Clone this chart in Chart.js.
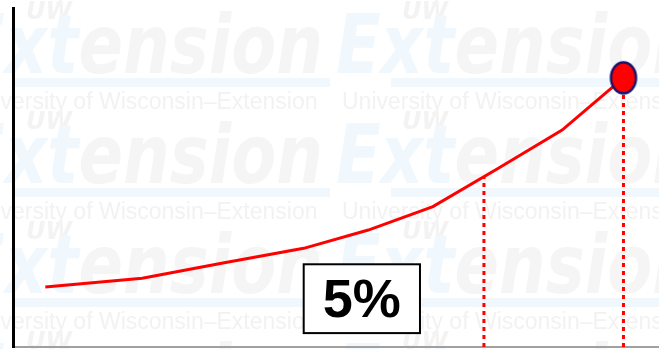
<!DOCTYPE html>
<html>
<head>
<meta charset="utf-8">
<script src="https://cdn.jsdelivr.net/npm/chart.js@4/dist/chart.umd.min.js"></script>
<style>
  body { margin: 0; background: #fff; }
  #wrap { width: 659px; height: 349px; position: relative; }
</style>
</head>
<body>
<div id="wrap"><canvas id="growthChart"></canvas></div>
<script>
// curve values (x on a 0-100 axis, y on a 0-100 axis)
const xPos = [5, 20, 32.5, 45, 55, 65, 75, 85, 94.5];
const yVal = [17.7, 20.3, 24.8, 29.1, 34.5, 41.4, 52.6, 64, 79.4];
// where the first dotted guide drops to the axis
const guideX = [72.9];
// callout box
const boxText = '5%';
const boxRange = { x0: 45, x1: 63, y0: 4.1, y1: 24.4 };
// watermark strings
const wmLine = 'University of Wisconsin\u2013Extension';

function yAt(x) {
    for (let i = 1; i < xPos.length; i++) {
        if (x <= xPos[i]) {
            const t = (x - xPos[i - 1]) / (xPos[i] - xPos[i - 1]);
            return yVal[i - 1] + t * (yVal[i] - yVal[i - 1]);
        }
    }
    return yVal[yVal.length - 1];
}

// oval end marker
const dot = document.createElement('canvas');
dot.width = 30;
dot.height = 36;
const dctx = dot.getContext('2d');
dctx.beginPath();
dctx.ellipse(15, 18, 12.5, 15.5, 0, 0, Math.PI * 2);
dctx.fillStyle = '#ff0000';
dctx.fill();
dctx.lineWidth = 2.5;
dctx.strokeStyle = '#14146e';
dctx.stroke();

const lastX = xPos[xPos.length - 1];
const lastY = yVal[yVal.length - 1];

const watermark = {
    id: 'watermark',
    beforeDraw(chart) {
        const ctx = chart.ctx;
        ctx.save();
        ctx.fillStyle = '#fff';
        ctx.fillRect(0, 0, chart.width, chart.height);
        const stepX = 376, stepY = 110;
        for (let row = -1; row < 4; row++) {
            for (let col = 0; col < 3; col++) {
                const ex = -40 + col * stepX;
                const by = 73 + row * stepY;
                // UW
                ctx.font = 'bold italic 24px "DejaVu Sans"';
                ctx.fillStyle = '#f3f3f3';
                ctx.fillText('UW', ex + 66, by - 54);
                // big logo word
                ctx.save();
                ctx.translate(ex, by);
                ctx.scale(0.8, 1);
                ctx.font = 'bold italic 82px "DejaVu Sans"';
                ctx.fillStyle = '#f0f8fd';
                ctx.fillText('Ext', 0, 0);
                const w = ctx.measureText('Ext').width;
                ctx.fillStyle = '#f5f5f5';
                ctx.fillText('ension', w, 0);
                ctx.restore();
                // bar under logo
                ctx.fillStyle = '#f0f8fd';
                ctx.fillRect(ex + 55, by + 5, 315, 9);
                // university line
                ctx.font = '23px "Liberation Sans"';
                ctx.fillStyle = '#f2f2f2';
                ctx.fillText(wmLine, ex + 6, by + 36);
            }
        }
        ctx.restore();
    }
};

const callout = {
    id: 'callout',
    afterDraw(chart) {
        const { ctx, scales: { x, y } } = chart;
        const l = x.getPixelForValue(boxRange.x0);
        const r = x.getPixelForValue(boxRange.x1);
        const t = y.getPixelForValue(boxRange.y1);
        const b = y.getPixelForValue(boxRange.y0);
        ctx.save();
        ctx.fillStyle = '#fff';
        ctx.fillRect(l, t, r - l, b - t);
        ctx.lineWidth = 2;
        ctx.strokeStyle = '#000';
        ctx.strokeRect(l, t, r - l, b - t);
        ctx.fillStyle = '#000';
        ctx.font = 'bold 54px "Liberation Sans"';
        ctx.textAlign = 'center';
        ctx.textBaseline = 'middle';
        ctx.fillText(boxText, (l + r) / 2, (t + b) / 2 + 3);
        ctx.restore();
    }
};

new Chart(document.getElementById('growthChart'), {
    type: 'line',
    data: {
        datasets: [
            {
                data: [{ x: lastX, y: lastY }],
                pointStyle: dot,
                pointRadius: 15,
                showLine: false,
                clip: false
            },
            {
                data: xPos.map((v, i) => ({ x: v, y: yVal[i] })),
                borderColor: '#ff0000',
                borderWidth: 3,
                pointRadius: 0,
                tension: 0,
                clip: false
            },
            {
                data: [{ x: guideX[0], y: 0 }, { x: guideX[0], y: yAt(guideX[0]) }],
                borderColor: '#ff0000',
                borderWidth: 3,
                borderDash: [4, 4],
                pointRadius: 0,
                clip: false
            },
            {
                data: [{ x: lastX, y: 0 }, { x: lastX, y: lastY }],
                borderColor: '#ff0000',
                borderWidth: 3,
                borderDash: [4, 4],
                pointRadius: 0,
                clip: false
            }
        ]
    },
    options: {
        responsive: true,
        maintainAspectRatio: false,
        animation: false,
        layout: { autoPadding: false, padding: { top: 8, left: 0, right: 0, bottom: 0 } },
        plugins: {
            legend: { display: false },
            tooltip: { enabled: false }
        },
        scales: {
            x: {
                type: 'linear',
                min: 0,
                max: 100,
                ticks: { display: false },
                grid: { color: 'transparent', drawTicks: false },
                border: { color: '#a0a0a0', width: 2 },
                afterFit: s => { s.height = 2; }
            },
            y: {
                min: 0,
                max: 100,
                ticks: { display: false },
                grid: { color: 'transparent', drawTicks: false },
                border: { color: '#000', width: 3 },
                afterFit: s => { s.width = 13; }
            }
        }
    },
    plugins: [watermark, callout]
});
</script>
</body>
</html>
